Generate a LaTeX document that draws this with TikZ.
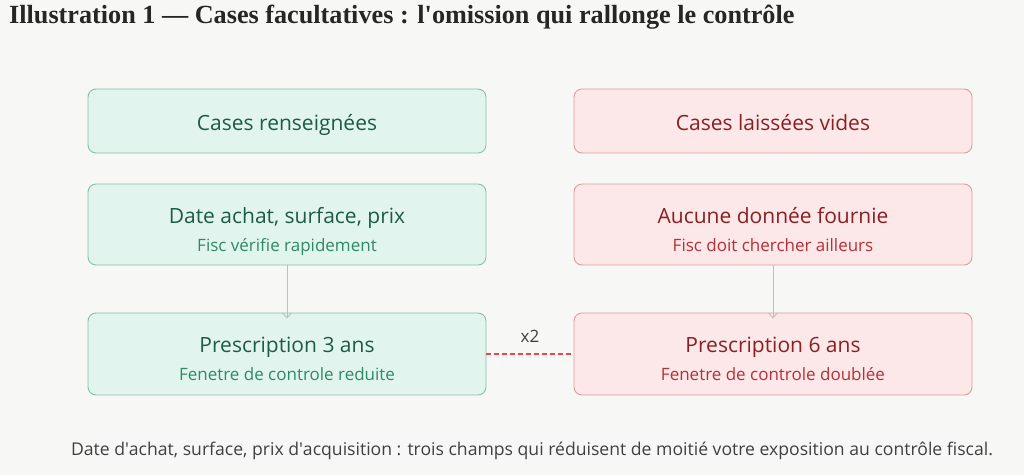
\documentclass[tikz,border=0pt]{standalone}
\usepackage{fontspec}
\setmainfont{Liberation Serif}
\setsansfont{Open Sans}
\usetikzlibrary{arrows.meta}
\definecolor{bg}{HTML}{F7F7F5}
\definecolor{gfill}{HTML}{E2F4EE}
\definecolor{gdraw}{HTML}{7FC3AC}
\definecolor{gtext}{HTML}{1D5C45}
\definecolor{gsub}{HTML}{2E8A66}
\definecolor{rfill}{HTML}{FCE8E8}
\definecolor{rdraw}{HTML}{E09A9A}
\definecolor{rtext}{HTML}{8A1F24}
\definecolor{rsub}{HTML}{B53038}
\definecolor{dash}{HTML}{E5484D}
\newcommand{\oneline}[1]{\raisebox{-4pt}[15pt][5pt]{#1}}
\newcommand{\twoline}[3]{\raisebox{-7pt}[\height][\depth]{\begin{tabular}{@{}c@{}}#2\\[-1pt]{\fontsize{17}{20}\selectfont\color{#1}#3}\end{tabular}}}
\begin{document}
\begin{tikzpicture}[x=1pt,y=-1pt,
  box/.style={rounded corners=8pt,line width=0.9pt,minimum width=398pt,align=center,font=\sffamily\fontsize{21}{29}\selectfont},
  gbox/.style={box,fill=gfill,draw=gdraw,text=gtext},
  rbox/.style={box,fill=rfill,draw=rdraw,text=rtext},
  arr/.style={draw=black!25,line width=0.9pt,-{Straight Barb[length=5pt,width=9pt]}}]
\fill[bg] (0,0) rectangle (1024,475);
\node[anchor=west,font=\bfseries\fontsize{26.2}{28}\selectfont,text=black!85,inner sep=0pt] (title) at (9,17) {Illustration 1 — Cases facultatives : l\textquotesingle omission qui rallonge le contrôle};
\node[gbox,minimum height=64pt] (g1) at (287,121) {\oneline{Cases renseignées}};
\node[rbox,minimum height=64pt] (r1) at (773,121) {\oneline{Cases laissées vides}};
\node[gbox,minimum height=81pt] (g2) at (287,224.5) {\twoline{gsub}{Date achat, surface, prix}{Fisc vérifie rapidement}};
\node[rbox,minimum height=81pt] (r2) at (773,224.5) {\twoline{rsub}{Aucune donnée fournie}{Fisc doit chercher ailleurs}};
\node[gbox,minimum height=82pt] (g3) at (287,354) {\twoline{gsub}{Prescription 3 ans}{Fenetre de controle reduite}};
\node[rbox,minimum height=82pt] (r3) at (773,354) {\twoline{rsub}{Prescription 6 ans}{Fenetre de controle doublée}};
\draw[arr] (g2.south) -- ([yshift=-6pt]g3.north);
\draw[arr] (r2.south) -- ([yshift=-6pt]r3.north);
\draw[draw=dash,line width=1.3pt,dash pattern=on 5pt off 3pt] (g3.east) -- (r3.west) node[midway,above=8pt,text=black!75,font=\sffamily\fontsize{17}{20}\selectfont] (x2) {x2};
\fill[black!3,rounded corners=6pt] (88,432) rectangle (970,470);
\node[font=\sffamily\fontsize{17.6}{20}\selectfont,text=black!75] (cap) at (532,451) {Date d\textquotesingle achat, surface, prix d\textquotesingle acquisition : trois champs qui réduisent de moitié votre exposition au contrôle fiscal.};
\end{tikzpicture}
\end{document}
